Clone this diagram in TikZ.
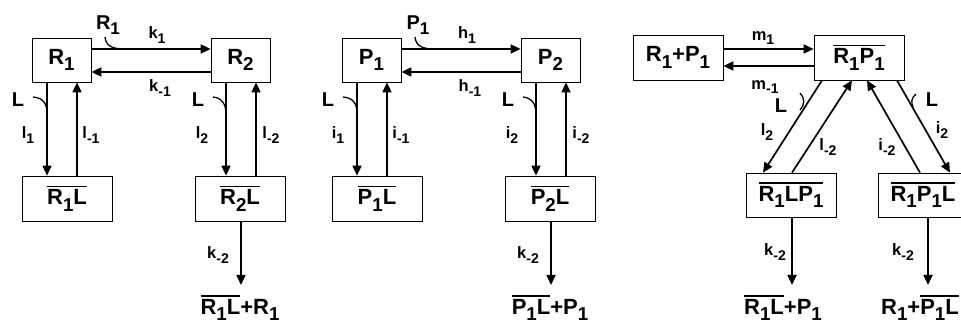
\documentclass[tikz,border=0pt]{standalone}
\usepackage{fontspec}
\usepackage{graphicx}
\setmainfont{Liberation Sans}
\usetikzlibrary{arrows.meta}
\newcommand\sbs[1]{\raisebox{-0.28em}{\scalebox{0.85}{#1}}}
\newcommand\ovl[1]{\vbox{\hrule height 1.4pt\kern 2.4pt\hbox{#1}}}
\begin{document}
\begin{tikzpicture}[x=1pt,y=-1pt,
 box/.style={draw, line width=0.7pt, inner sep=0pt, font=\fontsize{22}{26}\selectfont\bfseries},
 sbox/.style={box, minimum width=59pt, minimum height=44pt},
 wbox/.style={box, minimum width=90pt, minimum height=45pt},
 res/.style={inner sep=0pt, anchor=north, font=\fontsize{22}{26}\selectfont\bfseries},
 big/.style={inner sep=0pt, font=\fontsize{20}{24}\selectfont\bfseries},
 rate/.style={inner sep=0pt, font=\fontsize{16.5}{19}\selectfont\bfseries},
 arr/.style={line width=1.7pt, -{Triangle[length=10pt,width=9pt]}},
 hk/.style={line width=1.3pt}]
\useasboundingbox (0,0) rectangle (961,328);
% ---------- panel 1 ----------
\node[sbox] (R1) at (61.5,60) {R\sbs{1}};
\node[sbox] (R2) at (240.5,60) {R\sbs{2}};
\node[wbox] (R1L) at (67,198.5) {\ovl{R\sbs{1}L}};
\node[wbox] (R2L) at (240,198.5) {\ovl{R\sbs{2}L}};
\node[res] (o1) at (240,295) {\ovl{R\sbs{1}L}+R\sbs{1}};
\draw[arr] ([yshift=11pt]R1.east) -- ([yshift=11pt]R2.west);
\draw[arr] ([yshift=-12pt]R2.west) -- ([yshift=-12pt]R1.east);
\draw[arr] ([xshift=-14.5pt]R1.south) -- ([xshift=-14.5pt]R1.south |- R1L.north);
\draw[arr] ([xshift=15.5pt]R1.south |- R1L.north) -- ([xshift=15.5pt]R1.south);
\draw[arr] ([xshift=-14.5pt]R2.south) -- ([xshift=-14.5pt]R2.south |- R2L.north);
\draw[arr] ([xshift=15.5pt]R2.south |- R2L.north) -- ([xshift=15.5pt]R2.south);
\draw[arr, shorten >=10pt] ([xshift=1pt]R2L.south) -- ([xshift=1pt]R2L.south |- o1.north);
\node[big] (a1) at (108,25) {R\sbs{1}};
\draw[hk] (105,37) .. controls (106,46) and (112,49) .. (125,49);
\node[rate] (k1) at (157,35) {k\sbs{1}};
\node[rate] (km1) at (160,88) {k\sbs{-1}};
\node[big] (L1) at (18,100) {L};
\draw[hk] (33,97) .. controls (44,98) and (47,104) .. (47,114);
\node[rate] (l1) at (28,135) {l\sbs{1}};
\node[rate] (lm1) at (91,135) {l\sbs{-1}};
\node[big] (L2) at (198,100) {L};
\draw[hk] (213,97) .. controls (222,98) and (226,104) .. (226,114);
\node[rate] (l2) at (202,135) {l\sbs{2}};
\node[rate] (lm2) at (271,135) {l\sbs{-2}};
\node[rate] (km2) at (218,255) {k\sbs{-2}};
% ---------- panel 2 ----------
\node[sbox] (P1) at (371.5,60) {P\sbs{1}};
\node[sbox] (P2) at (550.5,60) {P\sbs{2}};
\node[wbox] (P1L) at (377,198.5) {\ovl{P\sbs{1}L}};
\node[wbox] (P2L) at (550,198.5) {\ovl{P\sbs{2}L}};
\node[res] (o2) at (550,295) {\ovl{P\sbs{1}L}+P\sbs{1}};
\draw[arr] ([yshift=11pt]P1.east) -- ([yshift=11pt]P2.west);
\draw[arr] ([yshift=-12pt]P2.west) -- ([yshift=-12pt]P1.east);
\draw[arr] ([xshift=-14.5pt]P1.south) -- ([xshift=-14.5pt]P1.south |- P1L.north);
\draw[arr] ([xshift=15.5pt]P1.south |- P1L.north) -- ([xshift=15.5pt]P1.south);
\draw[arr] ([xshift=-14.5pt]P2.south) -- ([xshift=-14.5pt]P2.south |- P2L.north);
\draw[arr] ([xshift=15.5pt]P2.south |- P2L.north) -- ([xshift=15.5pt]P2.south);
\draw[arr, shorten >=10pt] ([xshift=1pt]P2L.south) -- ([xshift=1pt]P2L.south |- o2.north);
\node[big] (a2) at (418,25) {P\sbs{1}};
\draw[hk] (415,37) .. controls (416,46) and (422,49) .. (435,49);
\node[rate] (h1) at (467,35) {h\sbs{1}};
\node[rate] (hm1) at (470,88) {h\sbs{-1}};
\node[big] (L3) at (328,100) {L};
\draw[hk] (343,97) .. controls (354,98) and (357,104) .. (357,114);
\node[rate] (i1) at (338,135) {i\sbs{1}};
\node[rate] (im1) at (401,135) {i\sbs{-1}};
\node[big] (L4) at (508,100) {L};
\draw[hk] (523,97) .. controls (532,98) and (536,104) .. (536,114);
\node[rate] (i2) at (512,135) {i\sbs{2}};
\node[rate] (im2) at (581,135) {i\sbs{-2}};
\node[rate] (km2b) at (528,255) {k\sbs{-2}};
% ---------- panel 3 ----------
\node[wbox] (RP) at (678,57.5) {R\sbs{1}+P\sbs{1}};
\node[wbox] (RPc) at (859,57.5) {\ovl{R\sbs{1}P\sbs{1}}};
\node[wbox, minimum height=44pt] (RLP) at (791,195) {\ovl{R\sbs{1}LP\sbs{1}}};
\node[wbox, minimum height=44pt] (RPL) at (923,195) {\ovl{R\sbs{1}P\sbs{1}L}};
\node[res] (o3) at (783,295) {\ovl{R\sbs{1}L}+P\sbs{1}};
\node[res] (o4) at (920,295) {R\sbs{1}+\ovl{P\sbs{1}L}};
\draw[arr] ([yshift=8.5pt]RP.east) -- ([yshift=8.5pt]RPc.west);
\draw[arr] ([yshift=-8.5pt]RPc.west) -- ([yshift=-8.5pt]RP.east);
\draw[arr] ([xshift=-37pt]RPc.south) -- ([xshift=-28pt]RLP.north);
\draw[arr] ([xshift=1pt]RLP.north) -- ([xshift=-7pt]RPc.south);
\draw[arr] ([xshift=-3pt]RPL.north) -- ([xshift=8pt]RPc.south);
\draw[arr] ([xshift=38pt]RPc.south) -- ([xshift=27pt]RPL.north);
\draw[arr, shorten >=10pt] ([xshift=1pt]RLP.south) -- ([xshift=1pt]RLP.south |- o3.north);
\draw[arr, shorten >=10pt] ([xshift=5pt]RPL.south) -- ([xshift=5pt]RPL.south |- o4.north);
\node[rate] (m1) at (763,38) {m\sbs{1}};
\node[rate] (mm1) at (765,87) {m\sbs{-1}};
\node[big] (L5) at (781,106) {L};
\draw[hk] (800,93) .. controls (805,98) and (805,105) .. (800,110);
\node[big] (L6) at (932,100) {L};
\draw[hk] (916,94) .. controls (911,98) and (911,103) .. (913,107);
\node[rate] (l2b) at (767,132) {l\sbs{2}};
\node[rate] (lm2b) at (828,147) {l\sbs{-2}};
\node[rate] (im2b) at (887,147) {i\sbs{-2}};
\node[rate] (i2b) at (942,130) {i\sbs{2}};
\node[rate] (km2c) at (775,252) {k\sbs{-2}};
\node[rate] (km2d) at (903,252) {k\sbs{-2}};
\end{tikzpicture}
\end{document}
